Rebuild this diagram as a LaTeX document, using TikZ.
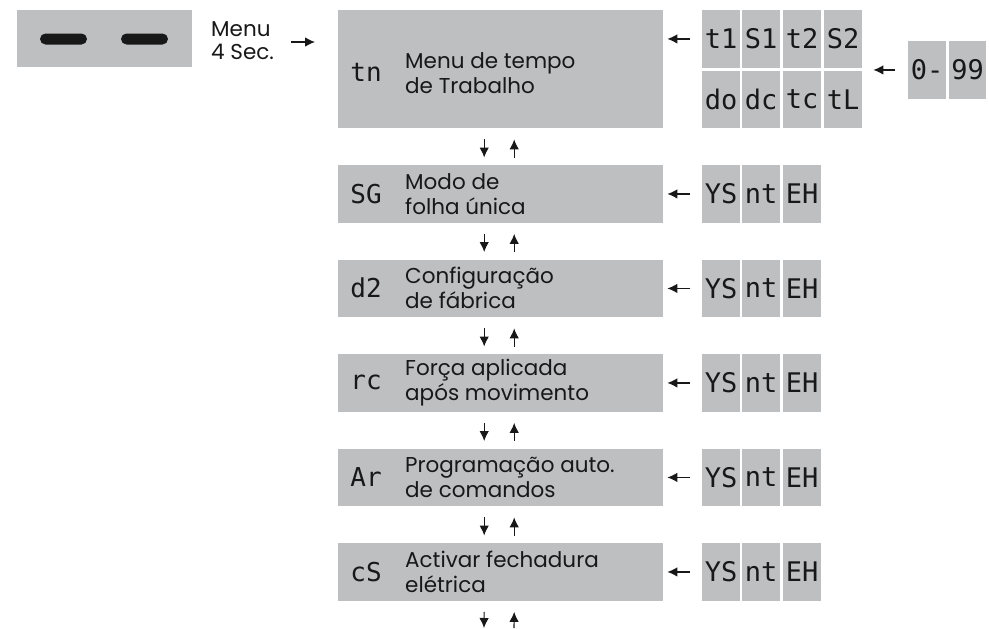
\documentclass[tikz,border=0pt]{standalone}
\usepackage{fontspec}
\setmainfont{Poppins}
\newfontfamily\segfont{DejaVu Sans Mono}
\usetikzlibrary{arrows.meta}
\definecolor{panel}{RGB}{190,191,193}
\definecolor{ink}{RGB}{24,24,24}
\tikzset{
  box/.style={fill=panel, draw=none, inner sep=0pt, anchor=north west, minimum width=325pt, minimum height=57.5pt},
  cell/.style={fill=panel, draw=none, inner sep=0pt, anchor=north west, minimum width=38pt, minimum height=57.5pt, text=ink, font=\segfont\fontsize{27}{27}\selectfont},
  seg/.style={inner sep=0pt, text=ink, font=\segfont\fontsize{26}{26}\selectfont},
  lbl/.style={inner sep=0pt, anchor=west, align=left, text=ink, font=\fontsize{21.5}{25}\selectfont},
  arr/.style={draw=ink, line width=1.1pt, -{Latex[length=10pt,width=9.5pt]}},
}
\begin{document}
\begin{tikzpicture}[x=1pt,y=-1pt]
\useasboundingbox (0,0) rectangle (989,629);
% key panel
\node[fill=panel, inner sep=0pt, anchor=north west, minimum width=175pt, minimum height=57pt] (key) at (17,10) {};
\fill[ink, rounded corners=5.5pt] (40,33.5) rectangle (87,44.5);
\fill[ink, rounded corners=5.5pt] (121,33.5) rectangle (168,44.5);
\node[lbl, font=\fontsize{21.5}{23}\selectfont] (menu) at (211,41) {Menu\\4 Sec.};
\coordinate (mtip) at (315,42);
\draw[arr] ([xshift=-24pt]mtip) -- (mtip);

% main boxes
\node[box, minimum height=118pt] (b1) at (338,10) {};
\node[box] (b2) at (338,165) {};
\node[box] (b3) at (338,259.5) {};
\node[box] (b4) at (338,354) {};
\node[box] (b5) at (338,448.5) {};
\node[box] (b6) at (338,543) {};

\node[seg] (s1) at (366,72) {tn};
\node[seg] (s2) at (366,193.75) {SG};
\node[seg] (s3) at (366,288.25) {d2};
\node[seg] (s4) at (366,382.75) {rc};
\node[seg] (s5) at (366,477.25) {Ar};
\node[seg] (s6) at (366,571.75) {cS};

\node[lbl] (l1) at (405,73) {Menu de tempo\\de Trabalho};
\node[lbl] (l2) at (405,193.75) {Modo de\\folha única};
\node[lbl] (l3) at (405,288.25) {Configuração\\de fábrica};
\node[lbl] (l4) at (405,382.75) {Força aplicada\\após movimento};
\node[lbl] (l5) at (405,477.25) {Programação auto.\\de comandos};
\node[lbl] (l6) at (405,571.75) {Activar fechadura\\elétrica};

% vertical arrows
\foreach \a/\b in {b1/b2,b2/b3,b3/b4,b4/b5,b5/b6}{
  \draw[arr] ([xshift=-16.5pt,yshift=-11pt]\a.south) -- ([xshift=-16.5pt,yshift=7.5pt]\b.north);
  \draw[arr] ([xshift=13.5pt,yshift=7.5pt]\b.north) -- ([xshift=13.5pt,yshift=-11pt]\a.south);
}
\coordinate (e1) at (484,628);
\coordinate (e2) at (514,628);
\draw[arr] ([xshift=-16.5pt,yshift=-11pt]b6.south) -- (e1);
\draw[arr] (e2) -- ([xshift=13.5pt,yshift=-11pt]b6.south);

% top right cells
\node[cell] (t1) at (702,10) {t1};
\node[cell] (S1) at (742,10) {S1};
\node[cell] (t2) at (783,10) {t2};
\node[cell] (S2) at (824,10) {S2};
\node[cell, minimum height=57pt] (do) at (702,71) {do};
\node[cell, minimum height=57pt] (dc) at (742,71) {dc};
\node[cell, minimum height=57pt] (tc) at (783,71) {tc};
\node[cell, minimum height=57pt] (tL) at (824,71) {tL};
\coordinate (p1) at (t1.west -| b1.east);
\draw[arr] ([xshift=-12pt]t1.west) -- ([xshift=4pt]p1);

\node[cell] (n0) at (908,41) {0-};
\node[cell, minimum width=37pt] (n99) at (949,41) {99};
\coordinate (q1) at (n0.west -| S2.east);
\draw[arr] ([xshift=-13pt]n0.west) -- ([xshift=11pt]q1);

% option cells
\node[cell] (y2) at (702,165) {YS};
\node[cell] (n2) at (742,165) {nt};
\node[cell] (x2) at (783,165) {EH};
\node[cell] (y3) at (702,259.5) {YS};
\node[cell] (n3) at (742,259.5) {nt};
\node[cell] (x3) at (783,259.5) {EH};
\node[cell] (y4) at (702,354) {YS};
\node[cell] (n4) at (742,354) {nt};
\node[cell] (x4) at (783,354) {EH};
\node[cell] (y5) at (702,448.5) {YS};
\node[cell] (n5) at (742,448.5) {nt};
\node[cell] (x5) at (783,448.5) {EH};
\node[cell] (y6) at (702,543) {YS};
\node[cell] (n6) at (742,543) {nt};
\node[cell] (x6) at (783,543) {EH};
\foreach \i in {2,...,6}{
  \draw[arr] ([xshift=-12pt]y\i.west) -- ([xshift=4pt]b\i.east);
}
\end{tikzpicture}
\end{document}
